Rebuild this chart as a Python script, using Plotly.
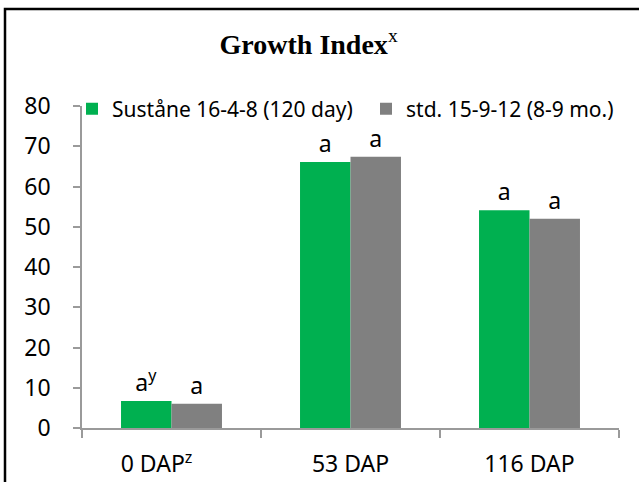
import plotly.graph_objects as go

categories = ["0 DAP<sup>z</sup>\u00a0\u00a0\u00a0\u00a0\u00a0", "53 DAP", "116 DAP"]
series_names = ["Suståne 16-4-8 (120 day)", "std. 15-9-12 (8-9 mo.)"]
sustane_values = [6.7, 66.1, 54.1]
standard_values = [6.0, 67.4, 52.0]
sustane_letters = ["a<sup>y</sup>", "a", "a"]
standard_letters = ["a", "a", "a"]
y_ticks = [0, 10, 20, 30, 40, 50, 60, 70, 80]

GREEN = "#00B050"
GRAY = "#808080"
SANS = "Noto Sans"
FS = 23

# plot-area geometry (px) used to convert layout positions to paper coords
L, R, T, B = 82, 20, 106, 54
PW, PH = 639 - L - R, 482 - T - B


def px_x(p):
    return (p - L) / PW


def px_y(p):
    return (482 - B - p) / PH


fig = go.Figure()
fig.add_trace(go.Bar(
    x=categories, y=sustane_values, name=series_names[0], legend="legend",
    marker=dict(color=GREEN, line=dict(width=0)),
    text=sustane_letters, textposition="outside", cliponaxis=False,
    constraintext="none", textfont=dict(family=SANS, size=FS, color="black"),
))
fig.add_trace(go.Bar(
    x=categories, y=standard_values, name=series_names[1], legend="legend2",
    marker=dict(color=GRAY, line=dict(width=0)),
    text=standard_letters, textposition="outside", cliponaxis=False,
    constraintext="none", textfont=dict(family=SANS, size=FS, color="black"),
))

legend_common = dict(
    orientation="h", xanchor="left", yanchor="middle", y=px_y(109),
    bgcolor="rgba(0,0,0,0)", font=dict(family=SANS, size=21, color="black"),
)

fig.update_layout(
    width=639, height=482,
    margin=dict(l=L, r=R, t=T, b=B, autoexpand=False),
    paper_bgcolor="white", plot_bgcolor="white",
    barmode="group", bargap=0.436, bargroupgap=0,
    font=dict(family=SANS, size=FS, color="black"),
    title=dict(
        text="<b>Growth Index</b><sup>x</sup>",
        font=dict(family="Liberation Serif", size=28, color="black"),
        x=0.483, xanchor="center", xref="container",
        y=1 - 44 / 482, yanchor="middle", yref="container",
    ),
    showlegend=True,
    legend=dict(x=px_x(72), **legend_common),
    legend2=dict(x=px_x(366), **legend_common),
    xaxis=dict(
        showline=True, linecolor="#9a9a9a", linewidth=1.5,
        ticks="outside", tickson="boundaries", ticklen=8, tickcolor="#9a9a9a",
        tickwidth=1.5, showgrid=False, ticklabelstandoff=15,
        tickfont=dict(family=SANS, size=FS, color="black"),
    ),
    yaxis=dict(
        range=[0, 80], tickvals=y_ticks, showline=True, linecolor="#9a9a9a",
        linewidth=1.5, ticks="outside", ticklen=7, tickcolor="#9a9a9a",
        tickwidth=1.5, showgrid=False, zeroline=False, ticklabelstandoff=18,
        tickfont=dict(family=SANS, size=FS, color="black"),
    ),
    shapes=[dict(
        type="rect", xref="paper", yref="paper",
        x0=px_x(5), x1=1.3, y0=-0.3, y1=px_y(9),
        line=dict(color="black", width=2.5), fillcolor="rgba(0,0,0,0)", layer="below",
    )],
)

fig.write_html(
    "out.html",
    config={"displayModeBar": False},
    post_script="document.body.style.margin='0';document.body.style.overflow='hidden';",
)
